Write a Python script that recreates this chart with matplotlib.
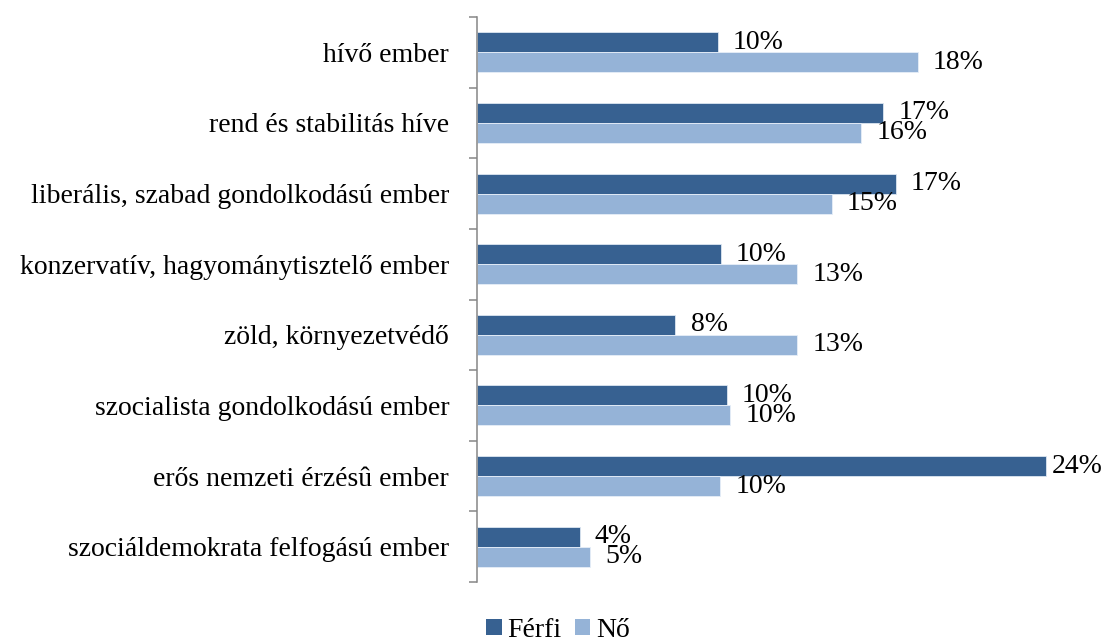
import numpy as np
import matplotlib.pyplot as plt
from matplotlib.patches import Patch

categories = ['hívő ember', 'rend és stabilitás híve',
              'liberális, szabad gondolkodású ember',
              'konzervatív, hagyománytisztelő ember',
              'zöld, környezetvédő', 'szocialista gondolkodású ember',
              'erős nemzeti érzésû ember', 'szociáldemokrata felfogású ember']
ferfi = [10.15, 17.15, 17.67, 10.28, 8.37, 10.54, 24.0, 4.33]
no = [18.59, 16.2, 14.97, 13.5, 13.5, 10.69, 10.27, 4.77]
ferfi_labels = ['10%', '17%', '17%', '10%', '8%', '10%', '24%', '4%']
no_labels = ['18%', '16%', '15%', '13%', '13%', '10%', '10%', '5%']

c_ferfi = '#376191'
c_no = '#95b3d7'
font = ['Liberation Serif', 'DejaVu Serif']
fs = 20

fig = plt.figure(figsize=(11.08, 6.42), dpi=100)
ax = fig.add_axes([477 / 1108, 1 - 582 / 642, 592.5 / 1108, 565 / 642])

y = np.arange(len(categories))
h = 0.283
ax.barh(y - h / 2, ferfi, height=h, color=c_ferfi, edgecolor='#dce6f2', linewidth=0.6)
ax.barh(y + h / 2, no, height=h, color=c_no, edgecolor='#e6eef8', linewidth=0.6)


def label(val, ypos, txt):
    # labels that would run off the right edge get pulled in closer to the bar
    off = 11 if val < 23 else 4
    ax.annotate(txt, (val, ypos), xytext=(off, 0), textcoords='offset points',
                va='center', ha='left', fontsize=fs, family=font)


for i in range(len(categories)):
    label(ferfi[i], y[i] - h / 2, ferfi_labels[i])
    label(no[i], y[i] + h / 2, no_labels[i])

ax.set_xlim(0, 25)
ax.set_ylim(len(categories) - 0.5, -0.5)
ax.set_xticks([])
ax.set_yticks(y)
ax.set_yticklabels(categories, fontsize=fs, family=font)
ax.set_yticks(np.arange(-0.5, len(categories)), minor=True)
ax.tick_params(axis='y', which='major', length=0, pad=20)
ax.tick_params(axis='y', which='minor', length=5.5, width=1.1, color='#868686', direction='out')
for s in ['top', 'right', 'bottom']:
    ax.spines[s].set_visible(False)
ax.spines['left'].set_color('#868686')
ax.spines['left'].set_linewidth(1.1)

handles = [Patch(facecolor=c_ferfi, label='Férfi'), Patch(facecolor=c_no, label='Nő')]
fig.legend(handles=handles, loc='center', bbox_to_anchor=(558 / 1108, 0.018), ncol=2,
           frameon=False, handlelength=0.55, handleheight=0.55, handletextpad=0.2,
           columnspacing=0.5, borderpad=0.2, prop={'family': font, 'size': fs})

fig.savefig('out.png', dpi=100)
